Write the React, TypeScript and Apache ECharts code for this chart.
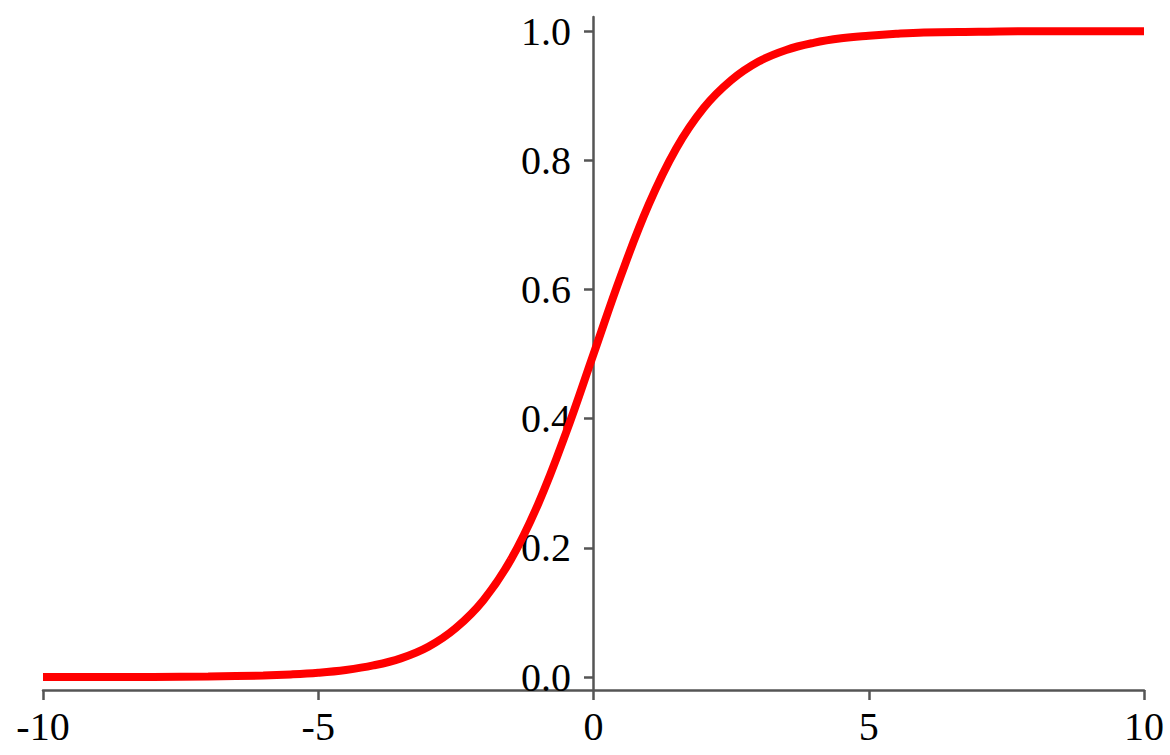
import React, { useEffect, useRef } from "react";
import * as echarts from "echarts";

const xValues = [-10, -9, -8, -7, -6, -5.5, -5, -4.5, -4, -3.5, -3, -2.5, -2, -1.5, -1, -0.5, 0, 0.5, 1, 1.5, 2, 2.5, 3, 3.5, 4, 4.5, 5, 5.5, 6, 7, 8, 9, 10];
const yValues = [0.0, 0.0001, 0.0003, 0.0009, 0.0025, 0.0041, 0.0067, 0.011, 0.018, 0.029, 0.047, 0.076, 0.119, 0.182, 0.269, 0.378, 0.5, 0.622, 0.731, 0.818, 0.881, 0.924, 0.953, 0.971, 0.982, 0.989, 0.993, 0.996, 0.998, 0.999, 1.0, 1.0, 1.0];
const yTicks = [0, 0.2, 0.4, 0.6, 0.8, 1.0];

export default function App() {
  const ref = useRef<HTMLDivElement>(null);
  useEffect(() => {
    if (!ref.current) return;
    const chart = echarts.init(ref.current, null, { renderer: "svg" });
    const font = "'Liberation Serif', 'Times New Roman', serif";
    chart.setOption({
      animation: false,
      backgroundColor: "#ffffff",
      grid: { left: 43, right: 26, top: 17, bottom: 65, containLabel: false, outerBoundsMode: "none" },
      xAxis: {
        type: "value",
        min: -10,
        max: 10,
        interval: 5,
        axisLine: { onZero: false, lineStyle: { color: "#555", width: 2.5 } },
        axisTick: { show: true, length: 10, lineStyle: { color: "#555", width: 2.5 } },
        axisLabel: { color: "#000", fontFamily: font, fontSize: 40, margin: 16 },
        splitLine: { show: false },
      },
      yAxis: {
        type: "value",
        min: -0.02,
        max: 1.022,
        offset: -550,
        axisLine: { show: true, onZero: false, lineStyle: { color: "#555", width: 2.5 } },
        axisTick: { show: true, length: 9, customValues: yTicks, lineStyle: { color: "#555", width: 2.5 } },
        axisLabel: {
          color: "#000",
          fontFamily: font,
          fontSize: 40,
          margin: 22,
          customValues: yTicks,
          formatter: (v: number) => v.toFixed(1),
        },
        splitLine: { show: false },
      },
      series: [
        {
          type: "line",
          data: xValues.map((x, i) => [x, yValues[i]]),
          smooth: 0.4,
          showSymbol: false,
          lineStyle: { color: "#ff0000", width: 8 },
        },
      ],
    });
    return () => chart.dispose();
  }, []);
  return (
    <div
      ref={ref}
      style={{ position: "fixed", left: 0, top: 0, width: 1170, height: 755, background: "#fff" }}
    />
  );
}
